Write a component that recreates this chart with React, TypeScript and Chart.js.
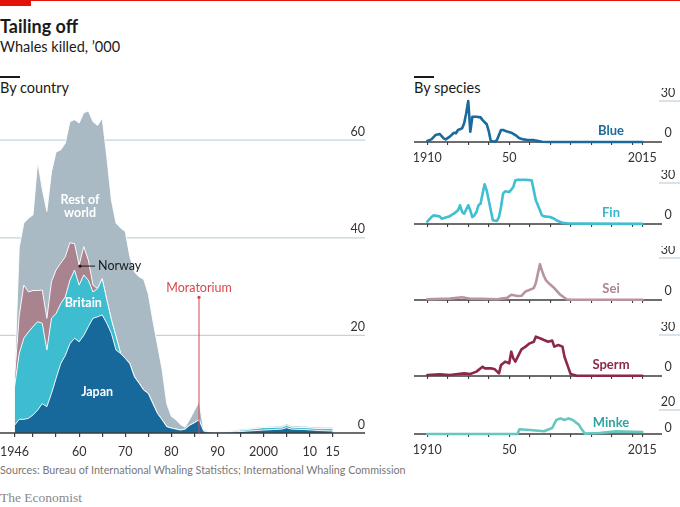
import { useEffect, useRef } from "react"
import { Chart, registerables } from "chart.js"

Chart.register(...registerables)

const FONT = "Lato, 'Noto Sans', sans-serif"
const GRID = "#c3d3dc"
const AXIS = "#3d3d3d"
const INK = "#333333"

// By country, whales killed ('000), stacked bottom to top
const countryYears = [
  1946, 1947, 1948, 1949, 1950, 1951, 1952, 1953, 1954, 1955,
  1956, 1957, 1958, 1959, 1960, 1961, 1962, 1963, 1964, 1965,
  1966, 1967, 1968, 1969, 1970, 1971, 1972, 1973, 1974, 1975,
  1976, 1977, 1978, 1979, 1980, 1981, 1982, 1983, 1984, 1985,
  1986, 1987, 1988, 1990, 1993, 1995, 2000, 2004, 2005, 2006,
  2009, 2012, 2015,
]
const japan = [
  1.6, 2.8, 2.8, 3.0, 3.7, 4.7, 6.0, 5.4, 8.1, 11.2,
  14.2, 15.9, 18.3, 19.4, 18.7, 20.0, 21.8, 23.5, 23.8, 24.2,
  22.5, 20.4, 17.0, 16.3, 15.3, 14.2, 11.5, 10.2, 8.8, 8.1,
  6.0, 4.0, 2.7, 1.3, 1.0, 0.8, 0.6, 0.8, 1.6, 2.1,
  2.7, 0.4, 0.2, 0.15, 0.2, 0.3, 0.6, 0.8, 1.1, 0.8,
  0.7, 0.5, 0.4,
]
const britain = [
  7.9, 13.5, 16.6, 17.7, 18.1, 18.1, 16.5, 11.6, 15.4, 13.3,
  12.3, 12.0, 13.0, 14.0, 11.6, 12.4, 9.5, 5.4, 5.8, 7.4,
  4.8, 2.8, 2.8, 0, 0, 0, 0, 0, 0, 0,
  0, 0, 0, 0, 0, 0, 0, 0, 0, 0,
  0, 0, 0, 0.05, 0.1, 0.25, 0.5, 0.4, 0.5, 0.4,
  0.4, 0.4, 0.5,
]
const norway = [
  2.0, 7.7, 10.9, 8.2, 7.4, 6.4, 6.8, 6.5, 7.5, 8.9,
  8.3, 8.2, 7.7, 5.4, 4.1, 5.8, 4.1, 1.4, 0, 0,
  0, 0, 0, 0, 0, 0, 0, 0, 0, 0,
  0, 0, 0, 0, 0, 0, 0, 0, 0, 0,
  0, 0, 0, 0, 0, 0, 0, 0, 0, 0,
  0, 0, 0,
]
const restOfWorld = [
  0.5, 14, 12.7, 15.1, 15.5, 26.4, 20.7, 21.9, 22.5, 24.2,
  23.2, 23.3, 24.8, 25.4, 29.1, 27.4, 30.6, 33.5, 33.4, 32.9,
  29.3, 24.5, 23.2, 25.7, 26.0, 21.9, 21.5, 21.8, 22.7, 20.4,
  17.0, 14.0, 10.3, 4.7, 2.4, 1.9, 1.1, 0.4, 1.2, 2.5,
  3.7, 0.4, 0.1, 0.05, 0.15, 0.25, 0.2, 0.3, 0.3, 0.3,
  0.3, 0.3, 0.3,
]
const countryTicks = [1946, 1950, 1955, 1960, 1965, 1970, 1975, 1980, 1985, 1990, 1995, 2000, 2005, 2010, 2015]
const countryTickLabels: Record<number, string> = {
  1946: "1946", 1960: "60", 1970: "70", 1980: "80", 1990: "90", 2000: "2000", 2010: "10", 2015: "15",
}
const countryGridValues = [0, 20, 40, 60]
const moratoriumYear = 1986

// By species, whales killed ('000): [year, value]
const blueWhales = [
  [1910, 0.7], [1912, 1.9], [1914, 5.1], [1916, 5.9], [1918, 2.7], [1919, 1.9], [1921, 3.9],
  [1923, 6.8], [1924, 6.4], [1925, 8.8], [1927, 10], [1928, 13.7], [1929, 21], [1930, 30],
  [1931, 7.5], [1932, 18.5], [1934, 18.5], [1936, 18], [1937, 16], [1939, 13], [1940, 8],
  [1941, 0.7], [1943, 0.2], [1944, 1.5], [1945, 5.1], [1946, 8.8], [1947, 8.8], [1949, 7.6],
  [1951, 6.8], [1953, 5.1], [1955, 2.7], [1957, 1.9], [1959, 1.5], [1962, 1.5], [1963, 1.0],
  [1966, 0.2], [1970, 0], [2015, 0],
]
const finWhales = [
  [1910, 1.7], [1912, 5.1], [1913, 6.3], [1916, 5.6], [1917, 3.9], [1921, 5.6], [1922, 6.8],
  [1923, 7.6], [1925, 10], [1926, 13.7], [1927, 8.8], [1928, 7.6], [1930, 13.7], [1931, 10],
  [1932, 5.1], [1933, 6.3], [1934, 8.8], [1935, 13.7], [1936, 14.9], [1937, 22.2], [1938, 29],
  [1939, 24.6], [1940, 17.3], [1941, 10], [1942, 2.7], [1944, 2.2], [1945, 5.1], [1946, 12.4],
  [1947, 22.2], [1948, 23.9], [1950, 23.4], [1951, 25.1], [1952, 27.1], [1953, 31.9], [1954, 32.4],
  [1958, 32.4], [1961, 31.9], [1962, 24.6], [1963, 17.3], [1965, 10], [1966, 6.3], [1967, 5.6],
  [1970, 5.1], [1972, 3.9], [1973, 2.7], [1975, 1.5], [1976, 0.8], [1979, 0.4], [1985, 0.3],
  [2015, 0.1],
]
const seiWhales = [
  [1910, 0.5], [1921, 1.0], [1927, 2.0], [1931, 0.9], [1937, 0.9], [1944, 0.5], [1949, 1.5],
  [1951, 3.7], [1954, 2.9], [1956, 3.0], [1958, 6.1], [1962, 8.5], [1963, 12.2], [1965, 25.6],
  [1966, 21], [1967, 17], [1968, 14], [1970, 11], [1972, 8.5], [1975, 3.7], [1978, 0.5],
  [1980, 0.2], [2015, 0.2],
]
const spermWhales = [
  [1910, 0.7], [1916, 1.2], [1921, 0.7], [1928, 1.9], [1931, 1.5], [1934, 3.2], [1937, 6.8],
  [1938, 5.6], [1941, 5.6], [1943, 4.9], [1945, 1.9], [1946, 8], [1948, 10.5], [1950, 9.3],
  [1951, 17.8], [1952, 12.9], [1953, 10.5], [1955, 16.6], [1956, 19.5], [1958, 21.5], [1960, 23.9],
  [1962, 25.1], [1963, 28.8], [1965, 27.6], [1967, 26.3], [1969, 25.1], [1971, 25.9], [1972, 21.5],
  [1974, 22.7], [1976, 21.5], [1977, 14.1], [1979, 5.6], [1980, 1.5], [1983, 0.2], [2015, 0.2],
]
const minkeWhales = [
  [1910, 0], [1954, 0], [1955, 3.9], [1960, 3.3], [1967, 2.3], [1971, 5], [1973, 11.7],
  [1975, 13], [1977, 11.7], [1979, 13], [1981, 11.7], [1984, 7.8], [1985, 5], [1987, 0.3],
  [1994, 0.8], [2002, 2.2], [2015, 1.7],
]
const speciesTicks = [1910, 1920, 1930, 1940, 1950, 1960, 1970, 1980, 1990, 2000, 2010, 2015]
const speciesTickLabels: Record<number, string> = { 1910: "1910", 1950: "50", 2015: "2015" }

function CountryChart() {
  const canvasRef = useRef<HTMLCanvasElement>(null)

  useEffect(() => {
    if (!canvasRef.current) return

    // canvas sits 30px left of the page edge and 80px down
    const gridLeft = 30
    const gridRight = 395

    const decor = {
      id: "countryDecor",
      beforeDatasetsDraw(chart: any) {
        const { ctx } = chart
        const y = chart.scales.y
        ctx.save()
        ctx.strokeStyle = GRID
        ctx.lineWidth = 1.3
        countryGridValues.forEach((v) => {
          if (v === 0) return
          const py = y.getPixelForValue(v)
          ctx.beginPath()
          ctx.moveTo(gridLeft, py)
          ctx.lineTo(gridRight, py)
          ctx.stroke()
        })
        ctx.restore()
      },
      afterDatasetsDraw(chart: any) {
        const { ctx } = chart
        const x = chart.scales.x
        const y = chart.scales.y
        ctx.save()

        // baseline
        const y0 = y.getPixelForValue(0)
        ctx.strokeStyle = AXIS
        ctx.lineWidth = 1.6
        ctx.beginPath()
        ctx.moveTo(gridLeft, y0)
        ctx.lineTo(gridRight, y0)
        ctx.stroke()

        // value labels above the gridlines
        ctx.fillStyle = INK
        ctx.font = `12.5px ${FONT}`
        ctx.textAlign = "right"
        ctx.textBaseline = "middle"
        countryGridValues.forEach((v) => {
          ctx.fillText(String(v), gridRight, y.getPixelForValue(v) - 8.5)
        })

        // moratorium marker
        const mx = x.getPixelForValue(moratoriumYear)
        const mTop = y.getPixelForValue(27.8)
        ctx.strokeStyle = "#d9464b"
        ctx.fillStyle = "#d9464b"
        ctx.lineWidth = 1
        ctx.beginPath()
        ctx.moveTo(mx, mTop)
        ctx.lineTo(mx, y0)
        ctx.stroke()
        ctx.beginPath()
        ctx.arc(mx, mTop, 1.6, 0, Math.PI * 2)
        ctx.fill()
        ctx.textAlign = "center"
        ctx.font = `12.5px ${FONT}`
        ctx.fillText("Moratorium", mx, y.getPixelForValue(29.7))

        // layer labels
        ctx.fillStyle = "#ffffff"
        ctx.font = `bold 12.5px ${FONT}`
        ctx.fillText("Rest of", x.getPixelForValue(1960.2), y.getPixelForValue(47.7))
        ctx.fillText("world", x.getPixelForValue(1960.2), y.getPixelForValue(45.1))
        ctx.fillText("Britain", x.getPixelForValue(1960.9), y.getPixelForValue(26.6))
        ctx.fillText("Japan", x.getPixelForValue(1963.9), y.getPixelForValue(8.4))

        // Norway callout
        const nx = x.getPixelForValue(1960.2)
        const ny = y.getPixelForValue(34.2)
        ctx.fillStyle = "#1a1a1a"
        ctx.strokeStyle = "#1a1a1a"
        ctx.beginPath()
        ctx.arc(nx, ny, 1.6, 0, Math.PI * 2)
        ctx.fill()
        ctx.beginPath()
        ctx.moveTo(nx, ny)
        ctx.lineTo(nx + 15, ny)
        ctx.stroke()
        ctx.textAlign = "left"
        ctx.font = `12.5px ${FONT}`
        ctx.fillText("Norway", nx + 18, ny)

        ctx.restore()
      },
    }

    const layer = (values: number[], color: string, fill: string | boolean) => ({
      data: values.map((v, i) => ({ x: countryYears[i], y: v })),
      backgroundColor: color,
      borderColor: "#ffffff",
      borderWidth: 0.9,
      fill,
      pointRadius: 0,
      tension: 0,
    })

    const chart = new Chart(canvasRef.current, {
      type: "line",
      data: {
        datasets: [
          layer(japan, "#17699b", "origin"),
          layer(britain, "#3ebdd0", "-1"),
          layer(norway, "#a9838e", "-1"),
          layer(restOfWorld, "#a9bac5", "-1"),
        ],
      },
      options: {
        responsive: false,
        animation: false,
        events: [],
        layout: { padding: { left: 44.6, right: 47.3, top: 11.4, bottom: 0 } },
        plugins: { legend: { display: false }, tooltip: { enabled: false } },
        scales: {
          x: {
            type: "linear",
            min: 1946,
            max: 2015,
            afterBuildTicks: (scale: any) => {
              scale.ticks = countryTicks.map((value) => ({ value }))
            },
            afterFit: (scale: any) => {
              scale.height = 27
            },
            border: { display: false },
            grid: { drawOnChartArea: false, drawTicks: true, tickLength: 4, color: AXIS, lineWidth: 1.2 },
            ticks: {
              autoSkip: false,
              maxRotation: 0,
              padding: 7,
              color: INK,
              font: { family: FONT, size: 12.5 },
              callback: (v: any) => countryTickLabels[v as number] ?? "",
            },
          },
          y: {
            display: false,
            stacked: true,
            min: 0,
            max: 70,
          },
        },
      },
      plugins: [decor],
    } as any)

    return () => {
      chart.destroy()
    }
  }, [])

  return (
    <canvas
      ref={canvasRef}
      width={410}
      height={380}
      style={{ position: "absolute", left: -30, top: 80, width: 410, height: 380 }}
    />
  )
}

type PanelProps = {
  name: string
  points: number[][]
  color: string
  textColor: string
  baseline: number
  max: number
  span: number
  years: boolean
  zeroDy: number
}

function SpeciesPanel({ name, points, color, textColor, baseline, max, span, years, zeroDy }: PanelProps) {
  const canvasRef = useRef<HTMLCanvasElement>(null)
  const height = 80
  const axisHeight = 26
  const plotBottom = height - axisHeight

  useEffect(() => {
    if (!canvasRef.current) return

    // canvas starts at page x 380
    const decor = {
      id: "speciesDecor",
      beforeDatasetsDraw(chart: any) {
        const { ctx } = chart
        const y = chart.scales.y
        const y0 = y.getPixelForValue(0)
        const yTop = y.getPixelForValue(max)
        ctx.save()
        ctx.strokeStyle = GRID
        ctx.lineWidth = 1.3
        ctx.beginPath()
        ctx.moveTo(279, yTop)
        ctx.lineTo(300, yTop)
        ctx.stroke()
        ctx.strokeStyle = AXIS
        ctx.lineWidth = 1.4
        ctx.beginPath()
        ctx.moveTo(34, y0)
        ctx.lineTo(282, y0)
        ctx.stroke()
        ctx.fillStyle = INK
        ctx.font = `12.5px ${FONT}`
        ctx.textAlign = "center"
        ctx.textBaseline = "middle"
        ctx.fillText(String(max), 288, yTop - 8)
        ctx.fillText("0", 288, y0 - 9 + zeroDy)
        ctx.restore()
      },
      afterDatasetsDraw(chart: any) {
        const { ctx } = chart
        const y0 = chart.scales.y.getPixelForValue(0)
        ctx.save()
        ctx.fillStyle = textColor
        ctx.font = `bold 13px ${FONT}`
        ctx.textAlign = "center"
        ctx.textBaseline = "middle"
        ctx.fillText(name, 231, y0 - 11)
        ctx.restore()
      },
    }

    const chart = new Chart(canvasRef.current, {
      type: "line",
      data: {
        datasets: [
          {
            data: points.map(([x, y]) => ({ x, y })),
            borderColor: color,
            borderWidth: 2.6,
            borderJoinStyle: "round",
            borderCapStyle: "round",
            pointRadius: 0,
            tension: 0,
            fill: false,
            clip: false,
          },
        ],
      },
      options: {
        responsive: false,
        animation: false,
        events: [],
        layout: { padding: { left: 47.3, right: 37.7, top: plotBottom - span, bottom: 0 } },
        plugins: { legend: { display: false }, tooltip: { enabled: false } },
        scales: {
          x: {
            type: "linear",
            min: 1910,
            max: 2015,
            afterBuildTicks: (scale: any) => {
              scale.ticks = speciesTicks.map((value) => ({ value }))
            },
            afterFit: (scale: any) => {
              scale.height = axisHeight
            },
            border: { display: false },
            grid: { drawOnChartArea: false, drawTicks: true, tickLength: 3, color: AXIS, lineWidth: 1.1 },
            ticks: {
              autoSkip: false,
              maxRotation: 0,
              padding: 5,
              color: INK,
              font: { family: FONT, size: 12.5 },
              callback: (v: any) => (years ? speciesTickLabels[v as number] ?? "" : ""),
            },
          },
          y: { display: false, min: 0, max },
        },
      },
      plugins: [decor],
    } as any)

    return () => {
      chart.destroy()
    }
  }, [name, points, color, textColor, max, span, years, zeroDy])

  return (
    <canvas
      ref={canvasRef}
      width={300}
      height={height}
      style={{ position: "absolute", left: 380, top: baseline - plotBottom, width: 300, height }}
    />
  )
}

const panels: PanelProps[] = [
  { name: "Blue", points: blueWhales, color: "#1b6a9c", textColor: "#1b6a9c", baseline: 142, max: 30, span: 41, years: true, zeroDy: 0 },
  { name: "Fin", points: finWhales, color: "#3fbfd2", textColor: "#34b5ca", baseline: 224, max: 30, span: 41, years: false, zeroDy: 0 },
  { name: "Sei", points: seiWhales, color: "#b8949c", textColor: "#a9868f", baseline: 300, max: 30, span: 42, years: false, zeroDy: 0 },
  { name: "Sperm", points: spermWhales, color: "#8d2946", textColor: "#8d2946", baseline: 376, max: 30, span: 41, years: false, zeroDy: 0 },
  { name: "Minke", points: minkeWhales, color: "#66c7bf", textColor: "#2ea3a0", baseline: 434, max: 20, span: 24, years: true, zeroDy: 3 },
]

export default function App() {
  const heading = { position: "absolute" as const, fontSize: 14.5, lineHeight: "18px", color: "#1a1a1a" }
  const rule = { position: "absolute" as const, top: 76, width: 20, height: 1.5, background: "#1a1a1a" }

  return (
    <div
      style={{
        position: "absolute",
        left: 0,
        top: 0,
        width: 680,
        height: 507,
        overflow: "hidden",
        background: "#ffffff",
        fontFamily: FONT,
      }}
    >
      <div style={{ position: "absolute", left: 0, top: 0, width: 680, height: 1, background: "#e3120b" }} />
      <div style={{ position: "absolute", left: 0, top: 0, width: 31, height: 6, background: "#e3120b" }} />
      <div style={{ position: "absolute", left: 0, top: 15, fontSize: 18, fontWeight: 700, lineHeight: "22px", color: "#1a1a1a" }}>
        Tailing off
      </div>
      <div style={{ ...heading, left: 0, top: 37, lineHeight: "20px" }}>Whales killed, ’000</div>
      <div style={{ ...rule, left: 0 }} />
      <div style={{ ...heading, left: 0, top: 79 }}>By country</div>
      <div style={{ ...rule, left: 414 }} />
      <div style={{ ...heading, left: 414, top: 79 }}>By species</div>

      <CountryChart />
      {panels.map((p) => (
        <SpeciesPanel key={p.name} {...p} />
      ))}

      <div style={{ position: "absolute", left: 0, top: 463, fontSize: 10.75, lineHeight: "14px", color: "#777777" }}>
        Sources: Bureau of International Whaling Statistics; International Whaling Commission
      </div>
      <div
        style={{
          position: "absolute",
          left: 0,
          top: 490,
          fontFamily: "'Liberation Serif', 'DejaVu Serif', serif",
          fontSize: 13.5,
          lineHeight: "16px",
          color: "#888888",
        }}
      >
        The Economist
      </div>
    </div>
  )
}
